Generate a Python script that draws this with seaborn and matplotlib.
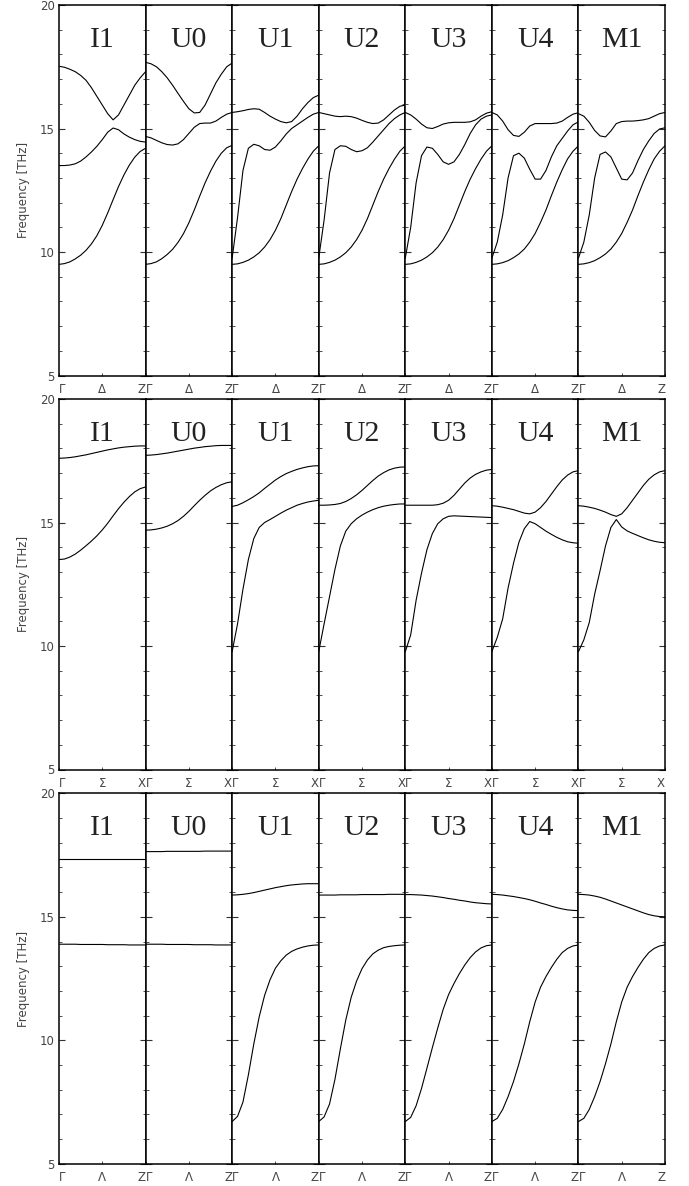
import numpy as np
import pandas as pd
import seaborn as sns
import matplotlib.pyplot as plt
from matplotlib.ticker import MultipleLocator

# sampling along each k-path segment (Gamma -> zone boundary)
kpath = np.linspace(0, 1, 17)
phases = ['I1', 'U0', 'U1', 'U2', 'U3', 'U4', 'M1']

# Gamma - Delta - Z
delta_I1 = [[17.52, 17.48, 17.4, 17.3, 17.15, 16.95, 16.65, 16.3, 15.95, 15.6, 15.35, 15.55, 15.95, 16.35, 16.75, 17.05, 17.3],
            [13.5, 13.5, 13.52, 13.57, 13.68, 13.85, 14.05, 14.28, 14.55, 14.85, 15.02, 14.95, 14.78, 14.65, 14.55, 14.48, 14.45],
            [9.5, 9.53, 9.6, 9.72, 9.87, 10.07, 10.33, 10.66, 11.08, 11.58, 12.12, 12.65, 13.12, 13.52, 13.84, 14.07, 14.2]]
delta_U0 = [[17.68, 17.62, 17.5, 17.3, 17.05, 16.75, 16.42, 16.1, 15.8, 15.63, 15.65, 15.95, 16.4, 16.85, 17.2, 17.5, 17.65],
            [14.68, 14.62, 14.52, 14.42, 14.35, 14.33, 14.38, 14.55, 14.8, 15.05, 15.2, 15.22, 15.22, 15.3, 15.45, 15.58, 15.65],
            [9.5, 9.53, 9.6, 9.73, 9.9, 10.11, 10.39, 10.74, 11.18, 11.7, 12.26, 12.8, 13.27, 13.68, 14.0, 14.22, 14.32]]
delta_U1 = [[15.65, 15.68, 15.72, 15.77, 15.8, 15.78, 15.65, 15.5, 15.38, 15.28, 15.23, 15.28, 15.5, 15.8, 16.05, 16.25, 16.35],
            [9.75, 11.4, 13.3, 14.2, 14.36, 14.3, 14.15, 14.12, 14.25, 14.5, 14.78, 15.0, 15.15, 15.3, 15.45, 15.58, 15.65],
            [9.5, 9.52, 9.58, 9.67, 9.8, 9.97, 10.2, 10.5, 10.88, 11.35, 11.9, 12.45, 12.95, 13.38, 13.76, 14.08, 14.3]]
delta_U2 = [[15.65, 15.6, 15.55, 15.5, 15.48, 15.5, 15.48, 15.42, 15.33, 15.25, 15.2, 15.22, 15.35, 15.55, 15.75, 15.9, 15.95],
            [9.75, 11.3, 13.2, 14.15, 14.3, 14.28, 14.15, 14.06, 14.1, 14.22, 14.45, 14.7, 14.95, 15.2, 15.4, 15.55, 15.65],
            [9.5, 9.52, 9.58, 9.67, 9.8, 9.97, 10.2, 10.5, 10.88, 11.35, 11.9, 12.45, 12.95, 13.38, 13.76, 14.08, 14.3]]
delta_U3 = [[15.65, 15.55, 15.38, 15.18, 15.03, 15.0, 15.08, 15.18, 15.23, 15.25, 15.25, 15.25, 15.27, 15.35, 15.5, 15.62, 15.68],
            [9.75, 11.0, 12.8, 13.9, 14.25, 14.2, 13.95, 13.65, 13.55, 13.65, 13.95, 14.35, 14.8, 15.15, 15.38, 15.5, 15.55],
            [9.5, 9.52, 9.58, 9.67, 9.8, 9.97, 10.2, 10.5, 10.88, 11.35, 11.9, 12.45, 12.95, 13.38, 13.76, 14.08, 14.3]]
delta_U4 = [[15.65, 15.55, 15.3, 14.95, 14.72, 14.68, 14.85, 15.1, 15.2, 15.2, 15.2, 15.2, 15.22, 15.3, 15.45, 15.58, 15.64],
            [9.75, 10.4, 11.5, 13.0, 13.9, 14.0, 13.8, 13.35, 12.95, 12.95, 13.3, 13.85, 14.3, 14.6, 14.9, 15.15, 15.27],
            [9.5, 9.52, 9.57, 9.65, 9.77, 9.92, 10.12, 10.4, 10.75, 11.2, 11.7, 12.28, 12.83, 13.33, 13.77, 14.08, 14.3]]
delta_M1 = [[15.6, 15.5, 15.25, 14.92, 14.7, 14.66, 14.9, 15.2, 15.28, 15.3, 15.3, 15.32, 15.35, 15.4, 15.5, 15.6, 15.65],
            [9.75, 10.4, 11.5, 13.0, 13.95, 14.05, 13.85, 13.4, 12.95, 12.92, 13.2, 13.7, 14.15, 14.5, 14.8, 14.98, 15.03],
            [9.5, 9.52, 9.57, 9.65, 9.77, 9.92, 10.12, 10.4, 10.75, 11.2, 11.7, 12.28, 12.83, 13.33, 13.77, 14.08, 14.3]]

# Gamma - Sigma - X
sigma_I1 = [[17.6, 17.61, 17.63, 17.66, 17.7, 17.74, 17.79, 17.84, 17.89, 17.94, 17.98, 18.02, 18.05, 18.07, 18.09, 18.1, 18.1],
            [13.5, 13.52, 13.6, 13.72, 13.88, 14.06, 14.25, 14.46, 14.7, 14.97, 15.27, 15.56, 15.82, 16.05, 16.24, 16.37, 16.44]]
sigma_U0 = [[17.72, 17.73, 17.75, 17.78, 17.81, 17.85, 17.89, 17.93, 17.97, 18.01, 18.04, 18.07, 18.09, 18.11, 18.12, 18.12, 18.12],
            [14.69, 14.7, 14.73, 14.78, 14.85, 14.95, 15.08, 15.25, 15.45, 15.68, 15.9, 16.1, 16.28, 16.42, 16.53, 16.61, 16.65]]
sigma_U1 = [[15.65, 15.7, 15.8, 15.92, 16.05, 16.2, 16.38, 16.55, 16.72, 16.86, 16.98, 17.07, 17.15, 17.21, 17.26, 17.29, 17.3],
            [9.77, 10.9, 12.3, 13.5, 14.35, 14.8, 15.0, 15.12, 15.25, 15.38, 15.5, 15.6, 15.7, 15.77, 15.83, 15.87, 15.9]]
sigma_U2 = [[15.7, 15.7, 15.71, 15.73, 15.77, 15.85, 15.97, 16.12, 16.3, 16.5, 16.7, 16.88, 17.02, 17.13, 17.2, 17.24, 17.25],
            [9.77, 10.9, 12.0, 13.1, 14.05, 14.65, 14.95, 15.15, 15.3, 15.42, 15.52, 15.6, 15.66, 15.7, 15.73, 15.75, 15.75]]
sigma_U3 = [[15.7, 15.7, 15.7, 15.7, 15.7, 15.7, 15.72, 15.78, 15.9, 16.1, 16.35, 16.6, 16.8, 16.95, 17.05, 17.12, 17.15],
            [9.77, 10.45, 11.85, 12.95, 13.9, 14.55, 14.95, 15.15, 15.25, 15.27, 15.26, 15.25, 15.24, 15.23, 15.22, 15.21, 15.2]]
sigma_U4 = [[15.68, 15.66, 15.62, 15.57, 15.52, 15.45, 15.38, 15.35, 15.42, 15.6, 15.85, 16.15, 16.45, 16.72, 16.92, 17.05, 17.1],
            [9.77, 10.35, 11.1, 12.35, 13.35, 14.2, 14.75, 15.04, 14.95, 14.8, 14.65, 14.52, 14.4, 14.3, 14.22, 14.18, 14.16]]
sigma_M1 = [[15.68, 15.66, 15.62, 15.57, 15.5, 15.42, 15.32, 15.25, 15.35, 15.6, 15.9, 16.2, 16.5, 16.75, 16.93, 17.05, 17.1],
            [9.77, 10.25, 10.95, 12.1, 13.05, 14.05, 14.8, 15.12, 14.82, 14.66, 14.56, 14.47, 14.38, 14.3, 14.24, 14.2, 14.18]]

# Gamma - Lambda - Z
lambda_I1 = [[17.35, 17.35, 17.35, 17.35, 17.35, 17.35, 17.35, 17.35, 17.35, 17.35, 17.35, 17.35, 17.35, 17.35, 17.35, 17.35, 17.35],
             [13.89, 13.89, 13.89, 13.89, 13.88, 13.88, 13.88, 13.88, 13.88, 13.87, 13.87, 13.87, 13.87, 13.86, 13.86, 13.86, 13.86]]
lambda_U0 = [[17.64, 17.64, 17.64, 17.64, 17.65, 17.65, 17.65, 17.65, 17.65, 17.65, 17.65, 17.66, 17.66, 17.66, 17.66, 17.66, 17.66],
             [13.89, 13.89, 13.89, 13.89, 13.88, 13.88, 13.88, 13.88, 13.88, 13.87, 13.87, 13.87, 13.87, 13.86, 13.86, 13.86, 13.86]]
lambda_U1 = [[15.88, 15.89, 15.91, 15.94, 15.98, 16.03, 16.08, 16.13, 16.18, 16.22, 16.26, 16.29, 16.31, 16.33, 16.34, 16.34, 16.34],
             [6.71, 6.92, 7.5, 8.6, 9.85, 10.95, 11.82, 12.45, 12.92, 13.22, 13.45, 13.6, 13.7, 13.77, 13.82, 13.85, 13.86]]
lambda_U2 = [[15.88, 15.88, 15.88, 15.88, 15.89, 15.89, 15.89, 15.89, 15.9, 15.9, 15.9, 15.9, 15.9, 15.91, 15.91, 15.91, 15.91],
             [6.71, 6.9, 7.42, 8.42, 9.65, 10.82, 11.74, 12.4, 12.9, 13.25, 13.5, 13.65, 13.75, 13.8, 13.83, 13.85, 13.86]]
lambda_U3 = [[15.9, 15.9, 15.89, 15.88, 15.86, 15.84, 15.81, 15.78, 15.74, 15.71, 15.67, 15.64, 15.6, 15.57, 15.55, 15.53, 15.52],
             [6.71, 6.88, 7.35, 8.05, 8.87, 9.7, 10.5, 11.25, 11.85, 12.3, 12.7, 13.05, 13.35, 13.58, 13.74, 13.83, 13.86]]
lambda_U4 = [[15.91, 15.9, 15.88, 15.85, 15.82, 15.78, 15.74, 15.69, 15.63, 15.56, 15.5, 15.43, 15.37, 15.32, 15.28, 15.26, 15.25],
             [6.71, 6.84, 7.2, 7.72, 8.33, 9.05, 9.85, 10.75, 11.55, 12.15, 12.58, 12.95, 13.28, 13.55, 13.72, 13.82, 13.86]]
lambda_M1 = [[15.91, 15.9, 15.88, 15.84, 15.79, 15.72, 15.64, 15.56, 15.48, 15.4, 15.32, 15.24, 15.16, 15.09, 15.04, 15.01, 15.0],
             [6.71, 6.84, 7.2, 7.72, 8.33, 9.05, 9.85, 10.75, 11.55, 12.15, 12.58, 12.95, 13.28, 13.55, 13.72, 13.82, 13.86]]

rows = [
    ([delta_I1, delta_U0, delta_U1, delta_U2, delta_U3, delta_U4, delta_M1], ['Γ', 'Δ', 'Z']),
    ([sigma_I1, sigma_U0, sigma_U1, sigma_U2, sigma_U3, sigma_U4, sigma_M1], ['Γ', 'Σ', 'X']),
    ([lambda_I1, lambda_U0, lambda_U1, lambda_U2, lambda_U3, lambda_U4, lambda_M1], ['Γ', 'Λ', 'Z']),
]

sns.set_style('ticks')
plt.rcParams['font.family'] = ['DejaVu Sans']

W, H = 689, 1186
fig = plt.figure(figsize=(W / 100, H / 100), dpi=100)

left_px, right_px = 59, 665
panel_w = (right_px - left_px) / 7
row_tops = [5, 399, 793.3]
row_h = 370.5

for r, (bands_per_phase, klabels) in enumerate(rows):
    for p, name in enumerate(phases):
        x0 = (left_px + p * panel_w) / W
        y0 = 1 - (row_tops[r] + row_h) / H
        ax = fig.add_axes([x0, y0, panel_w / W, row_h / H])

        df = pd.DataFrame({
            'k': np.tile(kpath, len(bands_per_phase[p])),
            'freq': np.concatenate(bands_per_phase[p]),
            'band': np.repeat(np.arange(len(bands_per_phase[p])), len(kpath)),
        })
        sns.lineplot(data=df, x='k', y='freq', units='band', estimator=None,
                     color='black', linewidth=0.8, legend=False, ax=ax)

        ax.set_xlim(0, 1)
        ax.set_ylim(5, 20)
        ax.set_xlabel('')
        ax.set_ylabel('')
        for s in ax.spines.values():
            s.set_linewidth(1.1)
            s.set_color('black')

        # phase name inside the panel
        ax.text(0.5, 18.3, name, ha='center', va='baseline',
                fontsize=21.5, family='Liberation Serif', color='#222222')

        ax.yaxis.set_major_locator(MultipleLocator(5))
        ax.yaxis.set_minor_locator(MultipleLocator(1))
        ax.tick_params(axis='y', which='both', direction='in', left=True, right=True,
                       colors='#333333', labelcolor='#444444', labelsize=8.5, pad=3)
        ax.tick_params(axis='y', which='major', length=4, width=0.8)
        ax.tick_params(axis='y', which='minor', length=2.5, width=0.6)

        ax.set_xticks([0, 0.5, 1])
        ax.set_xticklabels(klabels)
        ax.tick_params(axis='x', direction='in', length=2.5, width=0.6,
                       colors='#333333', labelcolor='#444444', labelsize=8.5, pad=5.5)
        tl = ax.get_xticklabels()
        tl[0].set_ha('left')
        tl[2].set_ha('right')

        if p == 0:
            ax.set_ylabel('Frequency [THz]', fontsize=8.5, color='#444444')
            ax.yaxis.set_label_coords(-0.33, 0.5)
        else:
            ax.tick_params(axis='y', which='both', labelleft=False)

fig.savefig('out.png', dpi=100)
